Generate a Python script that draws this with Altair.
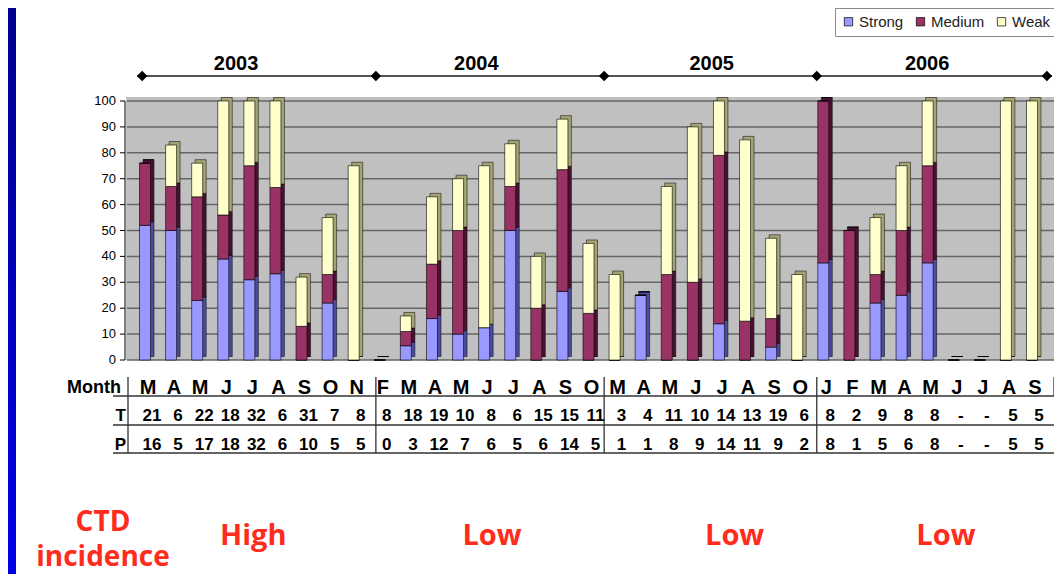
import altair as alt
import pandas as pd

# ---------------- data ----------------
months = ["M", "A", "M", "J", "J", "A", "S", "O", "N",
          "F", "M", "A", "M", "J", "J", "A", "S", "O",
          "M", "A", "M", "J", "J", "A", "S", "O",
          "J", "F", "M", "A", "M", "J", "J", "A", "S"]
t_counts = ["21", "6", "22", "18", "32", "6", "31", "7", "8",
            "8", "18", "19", "10", "8", "6", "15", "15", "11",
            "3", "4", "11", "10", "14", "13", "19", "6",
            "8", "2", "9", "8", "8", "-", "-", "5", "5"]
p_counts = ["16", "5", "17", "18", "32", "6", "10", "5", "5",
            "0", "3", "12", "7", "6", "5", "6", "14", "5",
            "1", "1", "8", "9", "14", "11", "9", "2",
            "8", "1", "5", "6", "8", "-", "-", "5", "5"]
strong = [52, 50, 23, 39, 31, 33.3, 0, 22, 0,
          0, 5.5, 16, 10, 12.5, 50, 0, 26.5, 0,
          0, 25, 0, 0, 14, 0, 5, 0,
          37.5, 0, 22, 25, 37.5, 0, 0, 0, 0]
medium = [24, 17, 40, 17, 44, 33.3, 13, 11, 0,
          0, 5.5, 21, 40, 0, 17, 20, 47, 18,
          0, 0, 33, 30, 65, 15, 11, 0,
          62.5, 50, 11, 25, 37.5, 0, 0, 0, 0]
weak = [0, 16, 13, 44, 25, 33.4, 19, 22, 75,
        0, 6, 26, 20, 62.5, 16.5, 20, 19.5, 27,
        33, 0, 34, 60, 21, 70, 31, 33,
        0, 0, 22, 25, 25, 0, 0, 100, 100]
years = ["2003", "2004", "2005", "2006"]
incidence = ["High", "Low", "Low", "Low"]
y_ticks = [0, 10, 20, 30, 40, 50, 60, 70, 80, 90, 100]
series = ["Strong", "Medium", "Weak"]

# ---------------- layout / style ----------------
front_colors = ["#9999FF", "#993366", "#FFFFCC"]
side_colors = ["#4C4C9E", "#4A1232", "#A3A374"]
year_pos = [3.49, 12.7, 21.72, 29.98]          # bar-index units
inc_pos = [4.15, 13.3, 22.6, 30.7]             # bar-index units
bounds = [-0.11, 8.85, 17.6, 25.75, 34.57]     # year boundaries, bar-index units
inner_bounds = bounds[1:4]
RED = "#FF2B1C"
FONT = "Liberation Sans"

rows = []
for i in range(len(months)):
    for k, vals in enumerate([strong, medium, weak]):
        rows.append({"i": i, "series": series[k], "value": vals[i],
                     "ord": k, "shade": side_colors[k]})
bars = pd.DataFrame(rows)
tbl = pd.DataFrame({"i": list(range(len(months))), "month": months,
                    "T": t_counts, "P": p_counts})
ydf = pd.DataFrame({"year": years, "pos": year_pos})
incdf = pd.DataFrame({"lab": incidence, "pos": inc_pos})
bdf = pd.DataFrame({"b": bounds})
ibdf = pd.DataFrame({"b": inner_bounds})
gdf = pd.DataFrame({"g": y_ticks})
one = pd.DataFrame({"a": [0]})

XS = alt.Scale(domain=[0, 34], range=[132, 1029])
YS = alt.Scale(domain=[0, 100], range=[352, 93], nice=False)


def xi(field):
    return alt.X(field, type="quantitative", scale=XS, axis=None)


def yv(field):
    return alt.Y(field, type="quantitative", scale=YS, axis=None)


# blue frame strip on the left
frame = alt.Chart(one).mark_rect(
    color=alt.LinearGradient(gradient="linear",
                             stops=[alt.GradientStop(color="#00008F", offset=0),
                                    alt.GradientStop(color="#0000E8", offset=1)],
                             x1=0, x2=0, y1=0, y2=1)
).encode(x=alt.value(0), x2=alt.value(8), y=alt.value(0), y2=alt.value(566))

wall = alt.Chart(one).mark_rect(color="#C0C0C0").encode(
    x=alt.value(118), x2=alt.value(1046), y=alt.value(89), y2=alt.value(352))

grid = alt.Chart(gdf).mark_rule(color="#666666", strokeWidth=1.5).encode(
    y=yv("g"), x=alt.value(119), x2=alt.value(1046))

# y axis drawn from the tick list through the y scale
ytick_marks = alt.Chart(gdf).mark_rule(color="black", strokeWidth=1).encode(
    y=yv("g"), x=alt.value(112), x2=alt.value(117))
yaxis_line = alt.Chart(one).mark_rule(color="black", strokeWidth=1).encode(
    x=alt.value(117), y=alt.value(352), y2=alt.value(93))
ytick_labels = alt.Chart(gdf).mark_text(font=FONT, fontSize=13, color="black",
                                        align="right", baseline="middle").encode(
    y=yv("g"), x=alt.value(108), text="g:Q")

shade = alt.Chart(bars).mark_bar(size=11, xOffset=3.5, yOffset=-3.5,
                                 stroke="black", strokeWidth=0.5).encode(
    x=xi("i"),
    y=alt.Y("value:Q", stack="zero", scale=YS, axis=None),
    fill=alt.Fill("shade:N", scale=None),
    order=alt.Order("ord:Q"))

front = alt.Chart(bars).mark_bar(size=11, stroke="black", strokeWidth=0.6).encode(
    x=xi("i"),
    y=alt.Y("value:Q", stack="zero", scale=YS, axis=None),
    color=alt.Color("series:N", scale=alt.Scale(domain=series, range=front_colors),
                    legend=alt.Legend(orient="none", legendX=827, legendY=0,
                                      direction="horizontal", title=None,
                                      strokeColor="#8A8A8A", fillColor="white",
                                      padding=6, symbolType="square", symbolSize=70,
                                      symbolStrokeColor="black", symbolStrokeWidth=0.7,
                                      labelFont=FONT, labelFontSize=15,
                                      labelColor="#222222", columnPadding=9,
                                      labelOffset=3)),
    order=alt.Order("ord:Q"))

# ---------- header (years) ----------
hline = alt.Chart(one).mark_rule(color="#555555", strokeWidth=2).encode(
    x=alt.value(129), x2=alt.value(1044), y=alt.value(68))
diamonds = alt.Chart(bdf).mark_point(shape="diamond", filled=True, color="black",
                                     size=110, opacity=1).encode(
    x=xi("b"), y=alt.value(68))
year_text = alt.Chart(ydf).mark_text(font=FONT, fontWeight="bold", fontSize=20,
                                     color="black", baseline="middle").encode(
    x=xi("pos"), y=alt.value(56), text="year:N")


# ---------- table ----------
def row_text(field, ypix, size, dx):
    return alt.Chart(tbl).mark_text(font=FONT, fontWeight="bold", fontSize=size,
                                    color="black", baseline="middle", dx=dx).encode(
        x=xi("i"), y=alt.value(ypix), text=f"{field}:N")


month_row = row_text("month", 380, 20, 3)
t_row = row_text("T", 407.5, 17, 7)
p_row = row_text("P", 436.5, 17, 7)


def hrule(ypix):
    return alt.Chart(one).mark_rule(color="#333333", strokeWidth=1.3).encode(
        x=alt.value(105), x2=alt.value(1046), y=alt.value(ypix))


vseps = alt.Chart(ibdf).mark_rule(color="#333333", strokeWidth=1.3).encode(
    x=xi("b"), y=alt.value(369), y2=alt.value(445))
vleft = alt.Chart(one).mark_rule(color="#333333", strokeWidth=1.3).encode(
    x=alt.value(120), y=alt.value(369), y2=alt.value(445))
vright = alt.Chart(one).mark_rule(color="#333333", strokeWidth=1.3).encode(
    x=alt.value(1046), y=alt.value(369), y2=alt.value(388))


def label(txt, xpix, ypix, size, align="right"):
    return alt.Chart(one).mark_text(text=txt, font=FONT, fontWeight="bold",
                                    fontSize=size, color="black", align=align,
                                    baseline="middle").encode(
        x=alt.value(xpix), y=alt.value(ypix))


lab_month = label("Month", 113, 380, 18)
lab_t = label("T", 118, 407.5, 17)
lab_p = label("P", 118, 436.5, 17)

# ---------- bottom red labels ----------
inc_text = alt.Chart(incdf).mark_text(font="Open Sans", fontWeight="bold", fontSize=29,
                                      color=RED, baseline="alphabetic").encode(
    x=xi("pos"), y=alt.value(537), text="lab:N")
ctd1 = alt.Chart(one).mark_text(text="CTD", font="Open Sans", fontWeight="bold",
                                fontSize=28, color=RED, baseline="alphabetic").encode(
    x=alt.value(95), y=alt.value(523))
ctd2 = alt.Chart(one).mark_text(text="incidence", font="Open Sans", fontWeight="bold",
                                fontSize=28, color=RED, baseline="alphabetic").encode(
    x=alt.value(95), y=alt.value(558))

chart = alt.layer(
    frame, wall, grid, ytick_marks, yaxis_line, ytick_labels, shade, front,
    hline, diamonds, year_text,
    hrule(388), hrule(417), hrule(445), vseps, vleft, vright,
    month_row, t_row, p_row, lab_month, lab_t, lab_p,
    inc_text, ctd1, ctd2,
).properties(
    width=1046, height=566, padding=0,
    autosize=alt.AutoSizeParams(type="none"),
    background="white",
).configure_view(stroke=None)

chart.save("out.html", embed_options={"renderer": "svg", "actions": False})
